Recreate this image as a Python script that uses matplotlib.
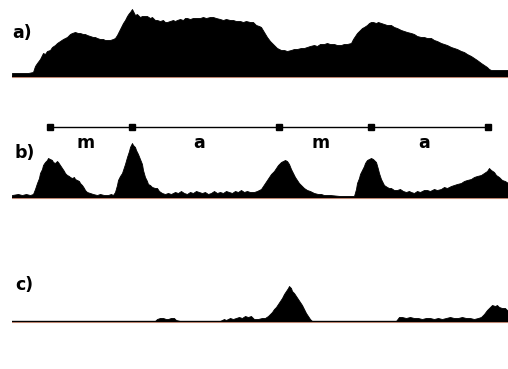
import matplotlib.pyplot as plt

# profile a) : position (px along transect) and intensity
a_pos = [12, 20, 28, 33, 35, 37, 40, 43, 45, 47, 50, 52, 55, 57, 60, 63, 65, 67, 70, 72,
         75, 78, 80, 83, 85, 87, 90, 93, 95, 97, 100, 103, 105, 107, 110, 113, 115, 117, 119, 121,
         123, 125, 127, 129, 130, 132, 133, 135, 137, 140, 142, 145, 147, 150, 152, 155, 157, 160, 163, 165,
         167, 170, 173, 175, 177, 180, 183, 185, 187, 190, 193, 195, 200, 203, 206, 210, 213, 216, 220, 223,
         226, 230, 233, 236, 240, 243, 246, 250, 253, 256, 259, 261, 264, 267, 270, 272, 274, 277, 279, 281,
         284, 287, 291, 294, 297, 301, 304, 307, 310, 314, 317, 320, 324, 327, 330, 334, 337, 341, 344, 347,
         351, 353, 355, 357, 360, 362, 364, 367, 369, 371, 373, 376, 378, 381, 384, 387, 391, 394, 397, 401,
         404, 407, 411, 414, 417, 421, 424, 427, 431, 434, 437, 441, 444, 447, 451, 454, 457, 461, 464, 467,
         471, 474, 477, 481, 484, 487, 489, 491, 500, 508]
a_val = [3, 3, 3, 4, 10, 13, 17, 23, 22, 25, 26, 29, 31, 33, 35, 37, 38, 39, 42, 43,
         44, 43, 43, 42, 42, 41, 40, 39, 39, 38, 37, 37, 36, 36, 36, 37, 38, 41, 45, 49,
         53, 56, 60, 63, 64, 67, 65, 61, 62, 59, 60, 60, 60, 58, 59, 56, 56, 55, 56, 54,
         54, 55, 56, 55, 56, 57, 56, 58, 58, 57, 58, 58, 58, 59, 58, 59, 59, 58, 57, 56,
         57, 56, 56, 55, 55, 54, 55, 54, 54, 51, 50, 49, 44, 39, 35, 33, 31, 28, 27, 26,
         26, 25, 26, 27, 27, 28, 28, 29, 30, 31, 30, 32, 32, 33, 32, 32, 31, 31, 32, 32,
         33, 37, 40, 43, 46, 48, 49, 51, 53, 54, 54, 53, 54, 53, 52, 51, 51, 49, 48, 46,
         45, 44, 43, 42, 40, 39, 39, 38, 38, 36, 35, 33, 32, 31, 29, 28, 27, 25, 24, 22,
         20, 18, 16, 13, 11, 9, 7, 6, 6, 6]

# profile b)
b_pos = [12, 18, 22, 26, 30, 33, 35, 37, 39, 40, 42, 43, 45, 47, 48, 50, 52, 53, 55, 57,
         58, 60, 62, 64, 65, 67, 69, 70, 72, 74, 75, 77, 79, 80, 82, 84, 85, 87, 90, 93,
         97, 100, 104, 108, 111, 113, 115, 117, 118, 120, 122, 123, 125, 127, 129, 130, 132, 133, 135, 136,
         138, 140, 142, 143, 145, 147, 148, 150, 152, 155, 157, 159, 162, 165, 168, 171, 175, 178, 181, 184,
         187, 190, 193, 196, 199, 202, 205, 208, 211, 214, 217, 220, 223, 226, 229, 232, 235, 238, 241, 244,
         247, 250, 254, 257, 261, 263, 265, 267, 269, 271, 274, 276, 278, 281, 283, 285, 287, 289, 291, 293,
         295, 297, 299, 301, 304, 307, 310, 314, 318, 321, 324, 330, 340, 350, 354, 356, 357, 359, 360, 362,
         364, 365, 367, 369, 371, 373, 375, 376, 378, 379, 381, 383, 384, 387, 389, 391, 394, 397, 400, 403,
         406, 409, 411, 414, 417, 420, 424, 427, 430, 434, 437, 441, 444, 447, 451, 454, 457, 461, 464, 467,
         471, 474, 477, 481, 484, 487, 489, 491, 494, 496, 499, 502, 505, 508]
b_val = [2, 3, 2, 3, 2, 3, 8, 14, 19, 24, 28, 32, 35, 37, 39, 38, 37, 35, 34, 36,
         35, 32, 29, 26, 24, 22, 21, 20, 19, 20, 18, 17, 16, 14, 12, 9, 7, 5, 4, 3,
         2, 3, 2, 2, 3, 2, 5, 12, 17, 21, 24, 27, 33, 40, 46, 50, 54, 52, 50, 47,
         43, 38, 33, 27, 20, 16, 13, 12, 10, 9, 9, 6, 4, 3, 4, 3, 5, 4, 6, 4,
         3, 5, 4, 6, 5, 4, 5, 3, 4, 6, 4, 5, 4, 6, 5, 4, 6, 5, 7, 5,
         6, 5, 5, 6, 8, 11, 14, 17, 20, 23, 26, 29, 32, 35, 36, 37, 36, 33, 28, 24,
         20, 17, 14, 12, 9, 7, 6, 4, 3, 3, 2, 2, 1, 1, 1, 8, 14, 19, 23, 27,
         31, 34, 37, 38, 39, 38, 36, 35, 28, 24, 18, 14, 12, 10, 9, 9, 7, 7, 8, 6,
         5, 6, 5, 4, 6, 5, 7, 7, 6, 8, 7, 8, 10, 9, 11, 12, 13, 14, 16, 17,
         18, 20, 21, 22, 24, 26, 29, 27, 25, 22, 20, 17, 16, 14]

# profile c)
c_pos = [12, 150, 155, 157, 160, 163, 166, 168, 171, 174, 176, 180, 220, 222, 224, 226, 228, 230, 233, 236,
         239, 242, 245, 248, 251, 254, 258, 262, 265, 268, 270, 272, 274, 276, 278, 280, 282, 284, 286, 288,
         289, 291, 292, 294, 296, 298, 300, 302, 304, 306, 308, 310, 312, 396, 399, 402, 406, 410, 414, 418,
         422, 426, 430, 434, 438, 442, 446, 450, 454, 458, 462, 466, 470, 474, 478, 481, 484, 487, 490, 492,
         495, 497, 499, 502, 505, 508]
c_val = [0, 0, 0, 2, 3, 3, 2, 2, 3, 3, 1, 0, 0, 1, 2, 1, 2, 3, 2, 3,
         4, 3, 5, 4, 5, 2, 2, 3, 3, 5, 7, 9, 12, 14, 17, 20, 23, 27, 30, 33,
         35, 33, 30, 28, 25, 22, 19, 16, 12, 8, 5, 2, 0, 0, 4, 4, 3, 4, 3, 3,
         2, 3, 3, 2, 3, 2, 3, 4, 3, 3, 4, 3, 3, 2, 3, 4, 7, 11, 14, 16,
         15, 16, 14, 13, 13, 10]

# segment bar over b)
seg_pos = [50, 132, 279, 371, 488]
seg_labels = ['m', 'a', 'm', 'a']
label_pos = [86, 199, 321, 424]

W, H = 508, 369
fig = plt.figure(figsize=(W / 100, H / 100), dpi=100)


def panel(top, base, pos, val):
    # axes where 1 data unit = 1 pixel, baseline at 0
    ax = fig.add_axes([12 / W, (H - base - 4) / H, 496 / W, (base + 4 - top) / H])
    ax.set_xlim(12, 508)
    ax.set_ylim(-4, base - top)
    ax.axis('off')
    ax.fill_between(pos, 0, val, color='black', lw=0.6, edgecolor='black')
    ax.plot([12, 508], [-0.8, -0.8], color='#eba58c', lw=0.8)
    ax.plot([12, 508], [0, 0], color='black', lw=1.0)
    return ax


panel(0, 76, a_pos, a_val)
ax_b = panel(110, 197, b_pos, b_val)
panel(268, 321, c_pos, c_val)

# bar with markers and labels in b)
ax_b.plot(seg_pos, [70] * len(seg_pos), color='black', lw=1.0,
          marker='s', markersize=4)
for x, lab in zip(label_pos, seg_labels):
    ax_b.text(x, 54, lab, ha='center', va='center', fontsize=12.5, fontweight='bold')

fig.text(12 / W, 1 - 33 / H, 'a)', fontsize=12.5, fontweight='bold', va='center')
fig.text(15 / W, 1 - 153 / H, 'b)', fontsize=12.5, fontweight='bold', va='center')
fig.text(15 / W, 1 - 285 / H, 'c)', fontsize=12.5, fontweight='bold', va='center')

fig.savefig('out.png', dpi=100)
